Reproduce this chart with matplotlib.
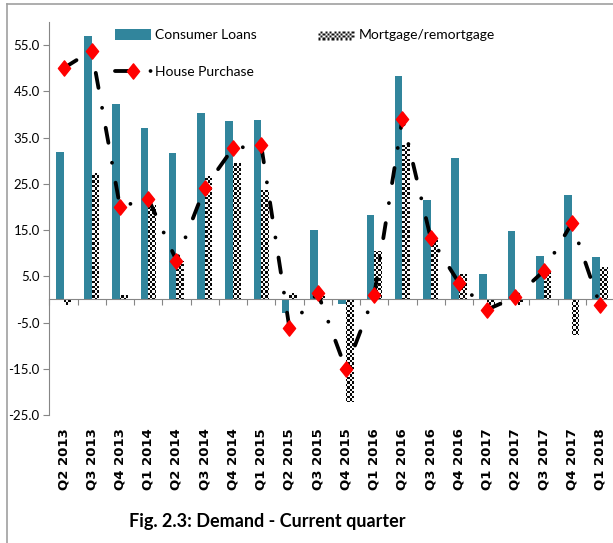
import numpy as np
import matplotlib
matplotlib.use("Agg")
import matplotlib.pyplot as plt
from matplotlib.path import Path
from matplotlib.patches import Rectangle
from matplotlib.lines import Line2D
from matplotlib.collections import PatchCollection
from matplotlib.legend_handler import HandlerBase
from matplotlib.transforms import blended_transform_factory

quarters = ["Q2 2013", "Q3 2013", "Q4 2013", "Q1 2014", "Q2 2014", "Q3 2014",
            "Q4 2014", "Q1 2015", "Q2 2015", "Q3 2015", "Q4 2015", "Q1 2016",
            "Q2 2016", "Q3 2016", "Q4 2016", "Q1 2017", "Q2 2017", "Q3 2017",
            "Q4 2017", "Q1 2018"]
consumer_loans = [31.8, 56.9, 42.3, 37.0, 31.6, 40.3, 38.6, 38.8, -2.9, 15.1,
                  -1.1, 18.2, 48.4, 21.6, 30.6, 5.6, 14.9, 9.3, 22.6, 9.1]
mortgage = [-1.2, 27.4, 1.0, 20.5, 8.3, 26.6, 29.4, 23.7, 1.3, 0.8,
            -22.2, 10.4, 33.4, 13.3, 5.4, -1.2, -1.2, 6.5, -7.8, 7.0]
house_purchase = [50.0, 53.8, 20.0, 21.8, 8.4, 24.1, 32.7, 33.3, -6.2, 1.4,
                  -15.1, 0.9, 39.1, 13.3, 3.6, -2.2, 0.5, 6.1, 16.5, -1.3]
yticks = [-25, -15, -5, 5, 15, 25, 35, 45, 55]
title = "Fig. 2.3: Demand - Current quarter"

TEAL = "#31859C"
GREY = "#868686"
W, H = 613, 543
DASH = (0, (4, 5.3, 0.01, 5.3))

fig = plt.figure(figsize=(W / 100, H / 100), dpi=100)
ax = fig.add_axes([49.4 / W, 1 - 415 / H, (614.2 - 49.4) / W, (415 - 22) / H])

x = np.arange(len(quarters))
bw = 0.27
ax.bar(x - 0.135, consumer_loans, width=bw, color=TEAL, zorder=2)
mbars = ax.bar(x + 0.135, mortgage, width=bw, facecolor="none",
               edgecolor="none", zorder=2)

ax.set_xlim(-0.5, len(quarters) - 0.5)
ax.set_ylim(-25, 60)

# checkerboard fill for mortgage bars
fig.canvas.draw()
cell_px = 2.4
nx = int(round(ax.bbox.width / cell_px))
ny = int(round(ax.bbox.height / cell_px))
checker = ((np.indices((ny, nx)).sum(axis=0)) % 2).astype(float) * 0.95 + 0.03
im = ax.imshow(checker, extent=(-0.5, len(quarters) - 0.5, -25, 60),
               aspect="auto", interpolation="nearest", cmap="gray",
               vmin=0, vmax=1, zorder=2.5)
paths = [b.get_path().transformed(b.get_patch_transform()) for b in mbars]
im.set_clip_path(Path.make_compound_path(*paths), ax.transData)
ax.set_xlim(-0.5, len(quarters) - 0.5)
ax.set_ylim(-25, 60)

# House purchase line
diamond = Path([(0, 1), (0.8, 0), (0, -1), (-0.8, 0), (0, 1)],
               [Path.MOVETO, Path.LINETO, Path.LINETO, Path.LINETO, Path.CLOSEPOLY])
ax.plot(x, house_purchase, color="black", lw=2.75, linestyle=DASH,
        dash_capstyle="round", marker=diamond, ms=11, mfc="red", mec="red",
        zorder=4)

# axes styling
for s in ["top", "right"]:
    ax.spines[s].set_visible(False)
ax.spines["left"].set_color(GREY)
ax.spines["bottom"].set_color(GREY)
ax.spines["bottom"].set_position(("data", 0))
ax.set_yticks(yticks)
ax.set_yticklabels([f"{v:.1f}" for v in yticks], fontfamily="Lato", fontsize=9.5)
ax.tick_params(axis="y", length=4, color=GREY, pad=3)
ax.set_xticks(np.arange(len(quarters) + 1) - 0.5)
ax.set_xticklabels([])
ax.tick_params(axis="x", length=4, color=GREY, direction="out")

tr = blended_transform_factory(ax.transData, ax.transAxes)
for xi, q in zip(x, quarters):
    ax.text(xi, -13 / 393, q, transform=tr, rotation=90, ha="center", va="top",
            fontsize=9.5, fontweight="bold", family="DejaVu Sans")


class HandlerChecker(HandlerBase):
    def create_artists(self, legend, orig_handle, xdescent, ydescent, width,
                       height, fontsize, trans):
        cell = 1.6
        nxc = int(width / cell)
        nyc = int(height / cell)
        rects = [Rectangle((-xdescent, -ydescent), nxc * cell, nyc * cell,
                           facecolor="white", edgecolor="none")]
        for i in range(nxc):
            for j in range(nyc):
                if (i + j) % 2 == 0:
                    rects.append(Rectangle((-xdescent + i * cell, -ydescent + j * cell),
                                           cell, cell, facecolor="#111111",
                                           edgecolor="none"))
        pc = PatchCollection(rects, match_original=True, transform=trans)
        return [pc]


cl_handle = Rectangle((0, 0), 1, 1, facecolor=TEAL, edgecolor="none")
hp_handle = Line2D([], [], color="black", lw=2.75, linestyle=DASH,
                   dash_capstyle="round", marker=diamond, ms=11,
                   mfc="red", mec="red")
mort_handle = Rectangle((0, 0), 1, 1)

leg_kw = dict(frameon=False, handlelength=2.6, handleheight=0.8,
              handletextpad=0.3, labelspacing=1.8, borderpad=0, borderaxespad=0,
              loc="upper left", prop={"family": "Lato", "size": 10})
fig.legend([cl_handle, hp_handle], ["Consumer Loans", "House Purchase"],
           bbox_to_anchor=(115 / W, 1 - 29 / H), numpoints=1, **leg_kw)
fig.legend([mort_handle], ["Mortgage/remortgage"],
           bbox_to_anchor=(318 / W, 1 - 29 / H),
           handler_map={Rectangle: HandlerChecker()}, **leg_kw)

fig.text(267.5 / W, 1 - 521 / H, title, ha="center", va="center",
         fontsize=13, fontweight="bold", family="Lato")

# outer chart border
fig.add_artist(Line2D([7 / W, 7 / W], [0, 1 - 4 / H], transform=fig.transFigure,
                      color="#a0a0a0", lw=1.2))
fig.add_artist(Line2D([7 / W, 1], [1 - 4 / H, 1 - 4 / H], transform=fig.transFigure,
                      color="#a0a0a0", lw=1.2))

fig.savefig("out.png", dpi=100)
